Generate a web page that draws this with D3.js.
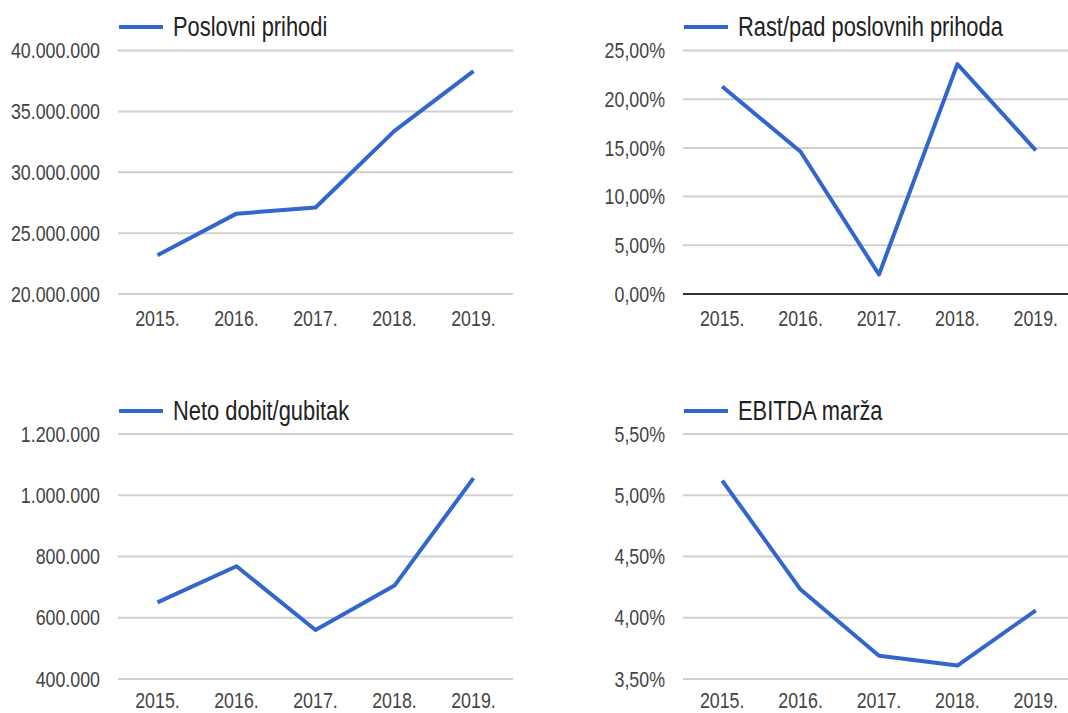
<!DOCTYPE html>
<html>
<head>
<meta charset="utf-8">
<title>Poslovni pokazatelji</title>
<script src="https://cdn.jsdelivr.net/npm/d3@7"></script>
<style>
  body { margin: 0; background: #fff; }
  svg { display: block; }
  .tick-lbl { font-family: "Liberation Sans", Arial, sans-serif; font-size: 22px; fill: #444; }
  .leg-lbl { font-family: "Liberation Sans", Arial, sans-serif; font-size: 27px; fill: #222; }
</style>
</head>
<body>
<svg id="chart" width="1068" height="713"></svg>
<script>
// podaci
var years = ["2015.", "2016.", "2017.", "2018.", "2019."];
var poslovniPrihodi = [23190000, 26600000, 27100000, 33400000, 38300000];
var rastPad = [21.3, 14.6, 2.0, 23.6, 14.75];       // %
var netoDobit = [650000, 768000, 560000, 705000, 1056000];
var ebitdaMarza = [5.12, 4.23, 3.69, 3.61, 4.06];   // %

var ticksPrihodi = [20000000, 25000000, 30000000, 35000000, 40000000];
var ticksRast = [0, 5, 10, 15, 20, 25];
var ticksDobit = [400000, 600000, 800000, 1000000, 1200000];
var ticksEbitda = [3.5, 4.0, 4.5, 5.0, 5.5];

var titles = ["Poslovni prihodi", "Rast/pad poslovnih prihoda", "Neto dobit/gubitak", "EBITDA marža"];

// hrvatski format brojeva
var hr = d3.formatLocale({decimal: ",", thousands: ".", grouping: [3], currency: ["", " kn"]});
var fmtInt = hr.format(",.0f");
var fmtPct = function(v){ return hr.format(".2f")(v) + "%"; };

var squeeze = 0.81; // tekst je u originalu vodoravno stisnut

var svg = d3.select("#chart");

var panels = [
  {title: titles[0], vals: poslovniPrihodi, ticks: ticksPrihodi, fmt: fmtInt, left: 118, right: 513, top: 50.5, bottom: 294, legY: 27, xLblOff: 32, zeroLine: false},
  {title: titles[1], vals: rastPad, ticks: ticksRast, fmt: fmtPct, left: 683, right: 1075, top: 50.5, bottom: 294, legY: 27, xLblOff: 32, zeroLine: true},
  {title: titles[2], vals: netoDobit, ticks: ticksDobit, fmt: fmtInt, left: 118, right: 513, top: 434, bottom: 679, legY: 411, xLblOff: 29, zeroLine: false},
  {title: titles[3], vals: ebitdaMarza, ticks: ticksEbitda, fmt: fmtPct, left: 683, right: 1075, top: 434, bottom: 679, legY: 411, xLblOff: 29, zeroLine: false}
];

panels.forEach(function(p){
  var g = svg.append("g");

  var x = d3.scalePoint().domain(years).range([p.left, p.right]).padding(0.5);
  var y = d3.scaleLinear().domain(d3.extent(p.ticks)).range([p.bottom, p.top]);

  // mreza
  g.selectAll(".grid")
    .data(p.ticks)
    .enter()
    .append("line")
    .attr("x1", p.left).attr("x2", p.right)
    .attr("y1", function(d){ return y(d); })
    .attr("y2", function(d){ return y(d); })
    .attr("stroke", function(d){ return (p.zeroLine && d === 0) ? "#333" : "#d0d0d0"; })
    .attr("stroke-width", 2);

  // oznake y osi
  g.selectAll(".ylbl")
    .data(p.ticks)
    .enter()
    .append("text")
    .attr("class", "tick-lbl")
    .attr("text-anchor", "end")
    .attr("dy", "0.35em")
    .attr("transform", function(d){ return "translate(" + (p.left - 18) + "," + y(d) + ") scale(" + squeeze + ",1)"; })
    .text(function(d){ return p.fmt(d); });

  // oznake x osi
  g.selectAll(".xlbl")
    .data(years)
    .enter()
    .append("text")
    .attr("class", "tick-lbl")
    .attr("text-anchor", "middle")
    .attr("transform", function(d){ return "translate(" + x(d) + "," + (p.bottom + p.xLblOff) + ") scale(" + squeeze + ",1)"; })
    .text(function(d){ return d; });

  // linija
  var line = d3.line()
    .x(function(d, i){ return x(years[i]); })
    .y(function(d){ return y(d); });

  g.append("path")
    .datum(p.vals)
    .attr("d", line)
    .attr("fill", "none")
    .attr("stroke", "#3366cc")
    .attr("stroke-width", 4)
    .attr("stroke-linejoin", "round");

  // legenda
  g.append("line")
    .attr("x1", p.left + 1).attr("x2", p.left + 45)
    .attr("y1", p.legY).attr("y2", p.legY)
    .attr("stroke", "#3366cc")
    .attr("stroke-width", 4);

  g.append("text")
    .attr("class", "leg-lbl")
    .attr("dy", "0.35em")
    .attr("transform", "translate(" + (p.left + 55) + "," + p.legY + ") scale(" + squeeze + ",1)")
    .text(p.title);
});
</script>
</body>
</html>
